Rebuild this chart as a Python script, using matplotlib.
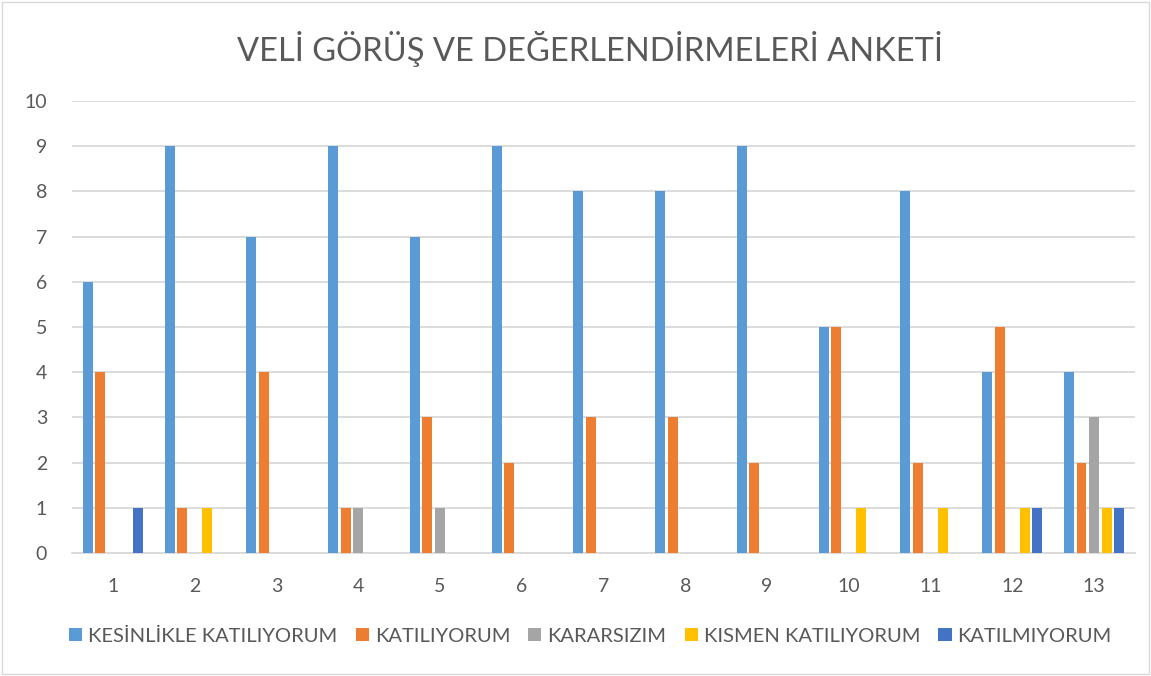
import numpy as np
import matplotlib
matplotlib.use("Agg")
import matplotlib.pyplot as plt
from matplotlib.patches import Rectangle

plt.rcParams['font.family'] = ['Lato', 'DejaVu Sans']

# survey answers per question
questions = ['1', '2', '3', '4', '5', '6', '7', '8', '9', '10', '11', '12', '13']
kesinlikle = [6, 9, 7, 9, 7, 9, 8, 8, 9, 5, 8, 4, 4]
katiliyorum = [4, 1, 4, 1, 3, 2, 3, 3, 2, 5, 2, 5, 2]
kararsizim = [0, 0, 0, 1, 1, 0, 0, 0, 0, 0, 0, 0, 3]
kismen = [0, 1, 0, 0, 0, 0, 0, 0, 0, 1, 1, 1, 1]
katilmiyorum = [1, 0, 0, 0, 0, 0, 0, 0, 0, 0, 0, 1, 1]

series = [
    ('KESİNLİKLE KATILIYORUM', kesinlikle, '#5B9BD5'),
    ('KATILIYORUM', katiliyorum, '#ED7D31'),
    ('KARARSIZIM', kararsizim, '#A5A5A5'),
    ('KISMEN KATILIYORUM', kismen, '#FFC000'),
    ('KATILMIYORUM', katilmiyorum, '#4472C4'),
]

fig = plt.figure(figsize=(11.51, 6.76), dpi=100)
ax = fig.add_axes([0.0626, 0.182, 0.9234, 0.6686])

x = np.arange(len(questions))
pitch = 0.153
width = 0.122
for k, (name, vals, col) in enumerate(series):
    ax.bar(x + (k - 2) * pitch, vals, width, color=col, label=name, zorder=3)

ax.set_xlim(-0.5, len(questions) - 0.5)
ax.set_ylim(0, 10)
ax.set_yticks(range(0, 11))
ax.set_xticks(x)
ax.set_xticklabels(questions)
ax.yaxis.grid(True, color='#d9d9d9', linewidth=1.3, zorder=0)
for s in ['top', 'right', 'left']:
    ax.spines[s].set_visible(False)
ax.spines['bottom'].set_color('#d9d9d9')
ax.spines['bottom'].set_linewidth(1.3)
ax.tick_params(axis='both', length=0, colors='#595959', labelsize=14)
ax.tick_params(axis='y', pad=18)
ax.tick_params(axis='x', pad=18)

fig.text(0.513, 0.928, 'VELİ GÖRÜŞ VE DEĞERLENDİRMELERİ ANKETİ', ha='center',
         va='center', fontsize=23.5, color='#595959')

fig.legend(loc='center', bbox_to_anchor=(0.513, 0.059), ncol=5, frameon=False,
           fontsize=14.5, labelcolor='#595959', handlelength=0.65, handleheight=0.65,
           handletextpad=0.3, columnspacing=0.9)

fig.patches.append(Rectangle((0.002, 0.003), 0.996, 0.994, transform=fig.transFigure,
                             fill=False, edgecolor='#d9d9d9', linewidth=1))

fig.savefig('out.png', dpi=100)
